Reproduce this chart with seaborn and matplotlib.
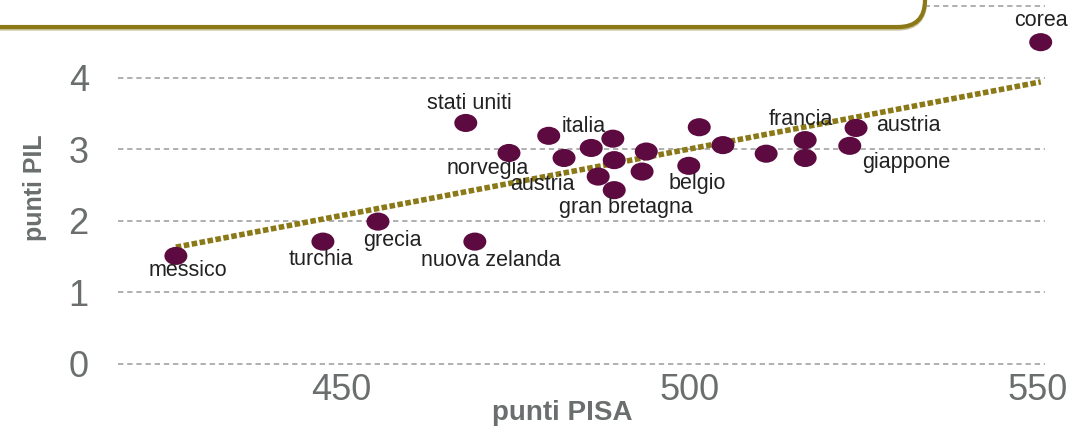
import matplotlib
matplotlib.use("Agg")
import matplotlib.pyplot as plt
import seaborn as sns
import numpy as np
import pandas as pd
from matplotlib.path import Path
from matplotlib.markers import MarkerStyle
from matplotlib.transforms import Affine2D
from matplotlib.patches import FancyBboxPatch

# ---------------- data ----------------
countries = ["corea", "messico", "turchia", "grecia", "nuova zelanda", "stati uniti",
             "norvegia", "italia", "", "", "", "", "austria", "gran bretagna",
             "", "", "", "", "belgio", "", "francia", "", "austria", "giappone"]
pisa = [550.4, 426.3, 447.4, 455.3, 469.2, 467.9, 474.1, 479.8, 482.0, 485.9, 489.0, 489.2,
        486.9, 489.2, 493.8, 493.2, 501.4, 504.8, 499.9, 511.0, 516.6, 516.6, 523.9, 523.0]
pil = [4.50, 1.51, 1.71, 1.99, 1.71, 3.37, 2.95, 3.19, 2.88, 3.02, 3.15, 2.85,
       2.62, 2.43, 2.97, 2.69, 3.31, 3.06, 2.77, 2.94, 3.13, 2.88, 3.30, 3.05]
x_ticks = [450, 500, 550]
y_ticks = [0, 1, 2, 3, 4]
grid_levels = [0, 1, 2, 3, 4, 5]
x_label = "punti PISA"
y_label = "punti PIL"

df = pd.DataFrame({"paese": countries, "pisa": pisa, "pil": pil})

# label offsets (pixels, right / up)
label_offsets = {
    "corea": (0, 22), "messico": (12, -15), "turchia": (-2, -18), "grecia": (14, -19),
    "nuova zelanda": (16, -19), "stati uniti": (4, 19), "norvegia": (-21, -16),
    "italia": (35, 9), "gran bretagna": (12, -17), "belgio": (8, -18),
    "francia": (-4, 21), "giappone": (56, -17),
}
austria_offsets = [(-56, -8), (52, 2)]

# ---------------- style ----------------
sns.set_theme(style="white")
plt.rcParams["font.family"] = ["Liberation Sans", "DejaVu Sans"]

POINT = "#5c0a3f"
OLIVE = "#8b7816"
TICK = "#6b6e6e"
TEXT = "#222222"

fig = plt.figure(figsize=(10.74, 4.26), dpi=100)
ax = fig.add_axes([0.1099, 0.1291, 0.863, 0.8709])

ax.set_xlim(418, 551)
ax.set_ylim(-0.1, 5.09)

# gridlines
for yv in grid_levels:
    ax.axhline(yv, color="#9a9a9a", lw=1.1, linestyle=(0, (3.5, 2.5)), zorder=0)

# regression line
sns.regplot(data=df, x="pisa", y="pil", ax=ax, scatter=False, ci=None, truncate=True,
            line_kws=dict(color=OLIVE, lw=4.0, linestyle=(0, (1, 0.45)),
                          dash_capstyle="butt", zorder=2))

# ellipse marker (image is horizontally stretched)
ell = Path.unit_circle().transformed(Affine2D().scale(1.27, 1.0))
sns.scatterplot(data=df, x="pisa", y="pil", ax=ax, marker=MarkerStyle(ell), s=274,
                color=POINT, edgecolor="none", linewidth=0, zorder=3, legend=False,
                clip_on=False)

# labels
a_i = 0
for name, xv, yv in zip(countries, pisa, pil):
    if not name:
        continue
    if name == "austria":
        off = austria_offsets[a_i]
        a_i += 1
    else:
        off = label_offsets[name]
    ax.annotate(name, xy=(xv, yv), xytext=off, textcoords="offset pixels",
                ha="center", va="center", fontsize=15.5, color=TEXT, zorder=4)

# axes styling
ax.set_xticks(x_ticks)
ax.set_yticks(y_ticks)
ax.set_xticklabels([str(v) for v in x_ticks])
ax.set_yticklabels([str(v) for v in y_ticks])
for s in ax.spines.values():
    s.set_visible(False)
ax.tick_params(axis="x", length=0, pad=1.5, labelsize=26, labelcolor=TICK)
ax.tick_params(axis="y", length=0, pad=21, labelsize=26, labelcolor=TICK)
ax.grid(False)

ax.set_xlabel(x_label, fontsize=20, fontweight="bold", color=TICK)
ax.set_ylabel(y_label, fontsize=18, fontweight="bold", color=TICK)
ax.xaxis.set_label_coords(0.479, -0.078)
ax.yaxis.set_label_coords(-0.0766, 0.493)

# decorative title box at top
shadow = FancyBboxPatch((-0.5, 3.975), 9.75, 1.5,
                        boxstyle="round,pad=0,rounding_size=0.27",
                        transform=fig.dpi_scale_trans, facecolor="white",
                        edgecolor="#c9bf95", lw=3.0, zorder=10)
box = FancyBboxPatch((-0.5, 3.99), 9.75, 1.5,
                     boxstyle="round,pad=0,rounding_size=0.27",
                     transform=fig.dpi_scale_trans, facecolor="white",
                     edgecolor=OLIVE, lw=3.0, zorder=11)
fig.add_artist(shadow)
fig.add_artist(box)

fig.savefig("out.png", dpi=100)
